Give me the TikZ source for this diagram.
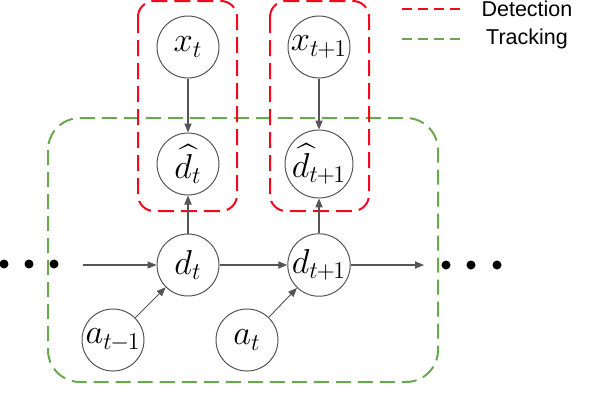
\documentclass[tikz,border=0pt]{standalone}
\usepackage[no-math]{fontspec}
\usepackage{amsmath,amssymb}
\usepackage{xcolor}
\usetikzlibrary{arrows.meta,positioning}
\newfontfamily\legendfont{Liberation Sans}
\definecolor{detred}{RGB}{240,10,30}
\definecolor{trkgreen}{RGB}{106,168,79}
\definecolor{arrowgray}{RGB}{85,85,85}

\begin{document}
\begin{tikzpicture}[
  x=0.5pt, y=-0.5pt,
  var/.style={circle, draw=arrowgray, line width=0.5pt, minimum size=31pt,
              inner sep=0pt, font=\fontsize{16.5}{20}\selectfont},
  link/.style={draw=arrowgray, line width=0.6pt,
               -{Triangle[length=4.5pt,width=3.6pt]}},
  detbox/.style={draw=detred, line width=1pt, dash pattern=on 8pt off 3.5pt,
                 rounded corners=8pt},
  trkbox/.style={draw=trkgreen, line width=1pt, dash pattern=on 7.5pt off 3.5pt,
                 rounded corners=16pt},
  dotnode/.style={circle, fill=black, inner sep=0pt, minimum size=4.5pt},
  legend/.style={font=\legendfont\fontsize{10.75}{13}\selectfont},
]
  \useasboundingbox (0,0) rectangle (594,418);

  % ===== Plates =====
  \draw[trkbox] (48,118) rectangle (438,382);
  \draw[detbox] (138,1) rectangle (237,211);
  \draw[detbox] (270,1) rectangle (369,211);

  % ===== Variables =====
  \node[var] (xt)  at (188,47)  {$x_t$};
  \node[var] (xt1) at (319,47)  {$x_{t\mspace{-1mu}+\mspace{-1mu}1}$};
  \node[var] (ht)  at (188,164) {$\widehat{d}_t$};
  \node[var] (ht1) at (319,164) {$\widehat{d}_{t\mspace{-1mu}+\mspace{-1mu}1}$};
  \node[var] (dt)  at (188,265) {$d_t$};
  \node[var] (dt1) at (319,265) {$d_{t\mspace{-1mu}+\mspace{-1mu}1}$};
  \node[var] (at0) at (113,340) {$a_{t\mspace{-1mu}-\mspace{-1mu}1}$};
  \node[var] (at1) at (247,340) {$a_t$};

  % ===== Chain ends =====
  \node[dotnode] (l1) at (4,264) {};
  \node[dotnode] (l2) at (29,264) {};
  \node[dotnode] (l3) at (54,264) {};
  \node[dotnode] (r1) at (446,265) {};
  \node[dotnode] (r2) at (471,265) {};
  \node[dotnode] (r3) at (497,265) {};
  \coordinate (cin)  at (83,265);
  \coordinate (cout) at (424,265);

  % ===== Edges =====
  \draw[link] (xt) -- (ht);
  \draw[link] (xt1) -- (ht1);
  \draw[link] (dt) -- (ht);
  \draw[link] (dt1) -- (ht1);
  \draw[link] (cin) -- (dt);
  \draw[link] (dt) -- (dt1);
  \draw[link] (dt1) -- (cout);
  \draw[link, line width=0.45pt] (at0) -- (dt);
  \draw[link, line width=0.45pt] (at1) -- (dt1);

  % ===== Legend =====
  \coordinate (ld0) at (402,9);
  \coordinate (ld1) at (460,9);
  \coordinate (lt0) at (402,39);
  \coordinate (lt1) at (460,39);
  \draw[draw=detred, line width=1pt, dash pattern=on 5pt off 3pt] (ld0) -- (ld1);
  \draw[draw=trkgreen, line width=1pt, dash pattern=on 5pt off 3pt] (lt0) -- (lt1);
  \node[legend] (ldet) at (527,9)  {Detection};
  \node[legend] (ltrk) at (527,39) {Tracking};
\end{tikzpicture}
\end{document}
